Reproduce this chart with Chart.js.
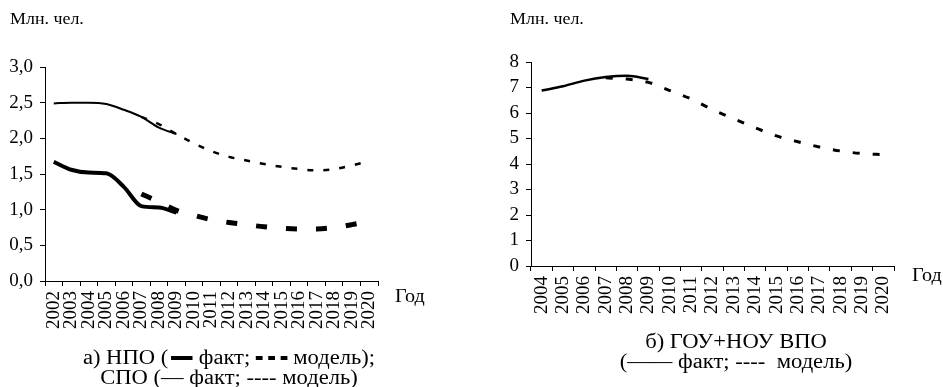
<!DOCTYPE html>
<html>
<head>
<meta charset="utf-8">
<script src="https://cdn.jsdelivr.net/npm/chart.js@4"></script>
<style>
  body { margin: 0; background: #fff; }
  #wrap { position: relative; width: 943px; height: 387px; overflow: hidden; font-family: "Liberation Serif", serif; color: #000; }
  canvas { position: absolute; top: 0; }
  .txt { position: absolute; white-space: nowrap; line-height: 1; transform-origin: left top; transform: scaleX(1.12); }
  .cap { position: absolute; white-space: nowrap; text-align: center; font-size: 20px; line-height: 20px; transform: translateX(-50%) scaleX(1.13); }
  .thick { display: inline-block; width: 19px; height: 4px; background: #000; vertical-align: middle; margin: 0 6px 2px 2px; }
  .dsh { display: inline-block; width: 6px; height: 4px; background: #000; vertical-align: middle; margin: 0 5px 2px 0; }
</style>
</head>
<body>
<div id="wrap">
  <canvas id="chartA" width="470" height="387" style="left:0"></canvas>
  <canvas id="chartB" width="473" height="387" style="left:470px"></canvas>

  <div class="txt" style="left:10px; top:11px; font-size:16px;">Млн. чел.</div>
  <div class="txt" style="left:510px; top:11px; font-size:16px;">Млн. чел.</div>
  <div class="txt" style="left:395px; top:287px; font-size:18px;">Год</div>
  <div class="txt" style="left:912px; top:266px; font-size:18px;">Год</div>

  <div class="cap" style="left:229px; top:347px;">а) НПО (<span class="thick"></span>факт; <span class="dsh"></span><span class="dsh"></span><span class="dsh"></span>модель);<br>СПО (— факт; ---- модель)</div>
  <div class="cap" style="left:736px; top:331px;">б) ГОУ+НОУ ВПО<br>(—— факт; ----&nbsp; модель)</div>
</div>

<script>
// Chart a) years and series
const yearsA = ['2002','2003','2004','2005','2006','2007','2008','2009','2010','2011',
                '2012','2013','2014','2015','2016','2017','2018','2019','2020'];
const npoFact  = [1.67, 1.56, 1.52, 1.51, 1.32, 1.05, 1.03, 0.96, null, null,
                  null, null, null, null, null, null, null, null, null];
const npoModel = [null, null, null, null, null, 1.22, 1.11, 0.99, 0.92, 0.86,
                  0.82, 0.79, 0.76, 0.74, 0.73, 0.73, 0.75, 0.79, 0.84];
const spoFact  = [2.49, 2.50, 2.50, 2.48, 2.40, 2.30, 2.15, 2.06, null, null,
                  null, null, null, null, null, null, null, null, null];
const spoModel = [null, null, null, null, null, 2.30, 2.20, 2.06, 1.93, 1.82,
                  1.74, 1.69, 1.64, 1.60, 1.57, 1.55, 1.57, 1.62, 1.68];

// Chart b) years and series
const yearsB = ['2004','2005','2006','2007','2008','2009','2010','2011','2012',
                '2013','2014','2015','2016','2017','2018','2019','2020'];
const vpoFact  = [6.88, 7.05, 7.27, 7.41, 7.46, 7.33, null, null, null,
                  null, null, null, null, null, null, null, null];
const vpoModel = [null, null, null, 7.38, 7.33, 7.20, 6.88, 6.55, 6.13,
                  5.77, 5.42, 5.10, 4.87, 4.67, 4.51, 4.41, 4.37];

const tickFont = { family: 'Liberation Serif', size: 19 };

function xScale() {
  return {
    type: 'category',
    offset: true,
    grid: { display: true, drawOnChartArea: false, offset: true, tickLength: 5, color: '#000', lineWidth: 1 },
    border: { color: '#000', width: 1 },
    ticks: { color: '#000', font: tickFont, minRotation: 90, maxRotation: 90, autoSkip: false, padding: 5 },
    afterFit: s => { s.height = 56; }
  };
}

function yScale(max, step, width, fmt) {
  return {
    min: 0, max: max,
    grid: { display: true, drawOnChartArea: false, tickLength: 5, color: '#000', lineWidth: 1 },
    border: { color: '#000', width: 1 },
    ticks: { color: '#000', font: tickFont, stepSize: step, padding: 7, autoSkip: false, callback: fmt },
    afterFit: s => { s.width = width; }
  };
}

function line(data, width, dash) {
  return {
    data: data,
    borderColor: '#000',
    borderWidth: width,
    borderDash: dash,
    borderCapStyle: 'butt',
    pointRadius: 0,
    cubicInterpolationMode: 'monotone',
    fill: false,
    spanGaps: false
  };
}

const common = {
  responsive: false,
  animation: false,
  devicePixelRatio: 1,
  plugins: { legend: { display: false }, tooltip: { enabled: false } }
};

new Chart(document.getElementById('chartA').getContext('2d'), {
  type: 'line',
  data: {
    labels: yearsA,
    datasets: [
      line(spoModel, 2.5, [6, 10]),
      line(npoModel, 5, [11, 19]),
      line(spoFact, 2, []),
      line(npoFact, 4, [])
    ]
  },
  options: Object.assign({}, common, {
    layout: { padding: { left: 0, top: 67, right: 92, bottom: 50 } },
    scales: {
      x: xScale(),
      y: yScale(3, 0.5, 45, v => v.toFixed(1).replace('.', ','))
    }
  })
});

new Chart(document.getElementById('chartB').getContext('2d'), {
  type: 'line',
  data: {
    labels: yearsB,
    datasets: [
      line(vpoModel, 3, [7, 13]),
      line(vpoFact, 2.5, [])
    ]
  },
  options: Object.assign({}, common, {
    layout: { padding: { left: 0, top: 62, right: 49, bottom: 65 } },
    scales: {
      x: xScale(),
      y: yScale(8, 1, 61, v => String(v))
    }
  })
});
</script>
</body>
</html>
